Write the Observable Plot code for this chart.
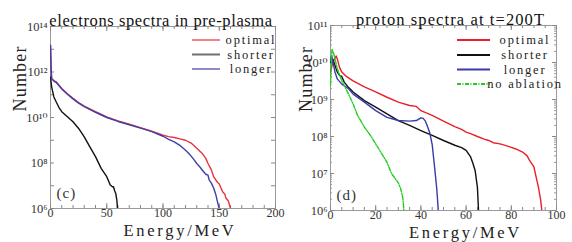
<!DOCTYPE html>
<html><head><meta charset="utf-8">
<script src="https://cdn.jsdelivr.net/npm/d3@7"></script>
<script src="https://cdn.jsdelivr.net/npm/@observablehq/plot@0.6"></script>
<style>
body{margin:0;background:#fff;}
#wrap{position:relative;width:572px;height:242px;display:flex;font-family:"Liberation Serif","Times New Roman","DejaVu Serif",serif;}
#legend{position:absolute;left:0;top:0;pointer-events:none;}
</style></head>
<body><div id="wrap"></div>
<script>
// ---------- data: panel (c) electrons ----------
const eOptE = [0,0.5,1,3,5,10,15,20,25,30,40,50,60,70,80,90,100,105,110,115,120,125,130,133,135,138,140,143,145,148,150,152,153,155,156,158,160];
const eOptN = [1.5e13,1.7e12,5.1e11,4.2e11,3.7e11,1.9e11,1.1e11,6.9e10,4.5e10,3.2e10,1.8e10,1.07e10,7.1e9,5.1e9,3.6e9,2.5e9,1.66e9,1.45e9,1.32e9,1.15e9,1.0e9,7.5e8,4.4e8,3.2e8,2.6e8,1.6e8,9.5e7,5e7,2.5e7,1.5e7,1.2e7,7e6,5.4e6,4.2e6,2.8e6,2.2e6,1e6];
const eShoE = [0,1,3,5,8,10,15,20,25,30,35,40,45,50,53,55,56,57,58,59,59.5];
const eShoN = [6e11,2.2e11,8e10,4.9e10,2.5e10,1.8e10,1.07e10,6.5e9,3.3e9,1.4e9,5.1e8,1.9e8,5.8e7,2.5e7,1.1e7,9e6,9e6,6e6,4.6e6,2.3e6,1e6];
const eLonE = [0,0.5,1,3,5,10,15,20,25,30,40,50,60,70,80,90,100,105,110,115,120,123,125,128,130,133,135,138,140,141,143,145,147,148,149,150];
const eLonN = [1.5e13,1.6e12,5e11,4.0e11,3.5e11,1.8e11,1.05e11,6.6e10,4.3e10,3.0e10,1.7e10,1.0e10,6.7e9,4.8e9,3.4e9,2.4e9,1.5e9,1.1e9,8.5e8,6e8,3.6e8,2.6e8,2.0e8,1.3e8,9.5e7,6.5e7,4.8e7,3.2e7,2.9e7,1.8e7,1.3e7,8e6,4e6,2.4e6,1.5e6,1e6];

// ---------- data: panel (d) protons ----------
const pOptE = [0,1,2,2.5,3,4,5,7,10,15,20,25,30,35,38,40,45,50,55,58,60,62,65,68,70,72,75,78,80,82,85,87,88,90,91,92,93,93.5];
const pOptN = [5.5e9,1e10,1.3e10,1.5e10,1.25e10,7.4e9,5.5e9,4.2e9,3.2e9,2.2e9,1.6e9,1.15e9,8.5e8,6.9e8,6.5e8,5e8,3.7e8,2.6e8,1.85e8,1.55e8,1.32e8,1.2e8,1.0e8,8.5e7,7.8e7,6.8e7,6.3e7,5.6e7,5.1e7,4.6e7,3.8e7,3.0e7,2.3e7,1.5e7,8e6,4.3e6,1.9e6,1e6];
const pShoE = [0,1,2,3,4,5,6,8,10,15,20,25,30,35,40,45,50,55,58,60,62,63,64,65,65.5];
const pShoN = [1e10,1.25e10,8.3e9,5.5e9,4.5e9,4.2e9,3.0e9,2.1e9,1.6e9,9.3e8,6.2e8,4.1e8,2.7e8,2.0e8,1.45e8,1.07e8,7.8e7,5.8e7,5e7,4.2e7,2.8e7,1.9e7,1.2e7,4.3e6,1e6];
const pLonE = [0,0.5,1,2,3,5,8,10,15,20,25,30,35,38,40,41,42,43,44,45,46,47,47.7];
const pLonN = [1.1e10,1.55e10,1.1e10,5.5e9,3.6e9,2.6e9,1.95e9,1.4e9,8.5e8,5e8,3.3e8,2.7e8,2.6e8,2.7e8,3.2e8,3.1e8,2.6e8,1.8e8,1.2e8,6e7,1.6e7,4e6,1e6];
const pNoaE = [0,0.3,0.7,1.5,3,5,8,10,12,15,18,20,22,25,27,30,31,32,32.5];
const pNoaN = [2.4e9,8e9,2.3e10,1.7e10,6.8e9,3.2e9,1.4e9,7.6e8,3.7e8,1.8e8,1e8,6.3e7,4e7,2e7,1e7,5.6e6,4e6,2.2e6,1e6];

// ---------- ticks / labels ----------
const eXTicks = [0,50,100,150,200];
const eXMinor = d3.range(0,201,10);
const eYLabel = [1e6,1e8,1e10,1e12,1e14];
const eYTicks = [1e6,1e7,1e8,1e9,1e10,1e11,1e12,1e13,1e14];
const pXTicks = [0,20,40,60,80,100];
const pXMinor = d3.range(0,101,5);
const pYTicks = [1e6,1e7,1e8,1e9,1e10,1e11];
const pYMinor = d3.range(6,11).flatMap(k => d3.range(2,10).map(m => m*Math.pow(10,k)));

const titles = ["electrons spectra in pre-plasma","proton spectra at t=200T"];
const xLabel = "Energy/MeV";
const yLabel = "Number";
const panelTags = ["(c)","(d)"];
const seriesNames = ["optimal","shorter","longer","no ablation"];

const FONT = '"Liberation Serif","Times New Roman","DejaVu Serif",serif';
const sup = {"0":"⁰","1":"¹","2":"²","3":"³","4":"⁴","5":"⁵","6":"⁶","7":"⁷","8":"⁸","9":"⁹"};
const fmt = d => "10" + String(Math.round(Math.log10(d))).split("").map(c=>sup[c]).join("");

const rows = (E,N) => E.map((e,i)=>({e, n:N[i]}));

function panel({w,h,ml,mr,mt,mb,xd,yd,xT,xM,yL,yT,yM,series,title,tag,titleDx,xlDx,titleLS}) {
  const W = w-ml-mr, H = h-mt-mb;
  const marks = [
    Plot.frame({stroke:"#9a9a9a"}),
    Plot.tickY(yT, {y:d=>d, insetRight:W-4, stroke:"#888"}),
    Plot.tickY(yT, {y:d=>d, insetLeft:W-4, stroke:"#888"}),
    Plot.tickX(xM, {x:d=>d, insetTop:H-3, stroke:"#888"}),
    Plot.tickX(xM, {x:d=>d, insetBottom:H-3, stroke:"#888"}),
    Plot.tickX(xT, {x:d=>d, insetTop:H-5, stroke:"#888"}),
    Plot.tickX(xT, {x:d=>d, insetBottom:H-5, stroke:"#888"}),
    Plot.axisX({ticks:xT, tickSize:0, tickPadding:0, fontSize:12, tickFormat:d=>d, fill:"#333", label:null}),
    Plot.axisY({ticks:yL, tickSize:0, tickPadding:3, fontSize:12.5, tickFormat:fmt, fill:"#333", label:null}),
  ];
  if (yM) {
    marks.push(Plot.tickY(yM, {y:d=>d, insetRight:W-2, stroke:"#999"}));
    marks.push(Plot.tickY(yM, {y:d=>d, insetLeft:W-2, stroke:"#999"}));
  }
  for (const s of series) {
    marks.push(Plot.line(s.data, {x:"e", y:"n", stroke:s.color, strokeWidth:1.4, strokeDasharray:s.dash, clip:true}));
  }
  marks.push(Plot.text([title], {frameAnchor:"top", dy:-12, dx:titleDx, fontSize:16.5, fill:"#111"}));
  marks.push(Plot.text([xLabel], {frameAnchor:"bottom", dy:27, dx:xlDx, fontSize:16.5, fill:"#222"}));
  marks.push(Plot.text([yLabel], {frameAnchor:"left", rotate:-90, dx:-ml+20, dy:-6, fontSize:18, fill:"#222"}));
  marks.push(Plot.text([tag], {frameAnchor:"bottom-left", dx:6, dy:-11, fontSize:15, fill:"#333"}));
  const svg = Plot.plot({
    width:w, height:h, marginLeft:ml, marginRight:mr, marginTop:mt, marginBottom:mb,
    x:{domain:xd, axis:null},
    y:{type:"log", domain:yd, axis:null},
    style:{fontFamily:FONT, background:"#fff", overflow:"visible"},
    marks
  });
  const sel = d3.select(svg).selectAll("text");
  sel.filter(function(){return this.textContent===xLabel;}).attr("letter-spacing", 2.7);
  sel.filter(function(){return this.textContent===title;}).attr("letter-spacing", titleLS);
  sel.filter(function(){return this.textContent===yLabel;}).attr("letter-spacing", 1.2);
  sel.filter(function(){return this.textContent===tag;}).attr("letter-spacing", 1);
  return svg;
}

const colE = {opt:"#e8323e", sho:"#111", lon:"#3f3fa8"};
const colP = {opt:"#e8202a", sho:"#111", lon:"#3a3aaa", noa:"#22cc22"};

const left = panel({w:286,h:242,ml:50,mr:11,mt:26,mb:34,xd:[0,200],yd:[1e6,1e14],
  xT:eXTicks,xM:eXMinor,yL:eYLabel,yT:eYTicks,yM:null,
  series:[
    {data:rows(eShoE,eShoN),color:colE.sho},
    {data:rows(eOptE,eOptN),color:colE.opt},
    {data:rows(eLonE,eLonN),color:colE.lon}],
  title:titles[0], tag:panelTags[0], titleDx:-2, xlDx:17, titleLS:0.6});
const right = panel({w:286,h:242,ml:44,mr:16,mt:25,mb:32,xd:[0,100],yd:[1e6,1e11],
  xT:pXTicks,xM:pXMinor,yL:pYTicks,yT:pYTicks,yM:pYMinor,
  series:[
    {data:rows(pOptE,pOptN),color:colP.opt},
    {data:rows(pShoE,pShoN),color:colP.sho},
    {data:rows(pLonE,pLonN),color:colP.lon},
    {data:rows(pNoaE,pNoaN),color:colP.noa,dash:"4,1.5,1,1.5"}],
  title:titles[1], tag:panelTags[1], titleDx:7, xlDx:22, titleLS:1.1});

const wrap = document.getElementById("wrap");
wrap.append(left, right);

// legend overlay
const ns = "http://www.w3.org/2000/svg";
const lg = document.createElementNS(ns,"svg");
lg.setAttribute("id","legend"); lg.setAttribute("width",572); lg.setAttribute("height",242);
function entry(x1,x2,y,color,label,tx,fs,op,dash){
  const l = document.createElementNS(ns,"line");
  l.setAttribute("x1",x1); l.setAttribute("x2",x2); l.setAttribute("y1",y); l.setAttribute("y2",y);
  l.setAttribute("stroke",color); l.setAttribute("stroke-width",2); l.setAttribute("stroke-opacity",op);
  if (dash) l.setAttribute("stroke-dasharray",dash);
  const t = document.createElementNS(ns,"text");
  t.setAttribute("x",tx); t.setAttribute("y",y); t.setAttribute("text-anchor","middle");
  t.setAttribute("dominant-baseline","central"); t.setAttribute("font-size",fs);
  t.setAttribute("font-family",FONT); t.setAttribute("fill","#222");
  t.setAttribute("letter-spacing",1.8);
  t.textContent = label;
  lg.append(l,t);
}
entry(192,220,40,colE.opt,seriesNames[0],251,12.5,0.6);
entry(192,220,54.5,colE.sho,seriesNames[1],251,12.5,0.6);
entry(192,220,69,colE.lon,seriesNames[2],251,12.5,0.6);
entry(457,490,40,colP.opt,seriesNames[0],525,12.5,1);
entry(457,490,55,colP.sho,seriesNames[1],525,12.5,1);
entry(457,490,69.5,colP.lon,seriesNames[2],525,12.5,1);
entry(457,490,84,colP.noa,seriesNames[3],525,12.5,1,"4,1.5,1,1.5");
wrap.append(lg);
</script></body></html>
